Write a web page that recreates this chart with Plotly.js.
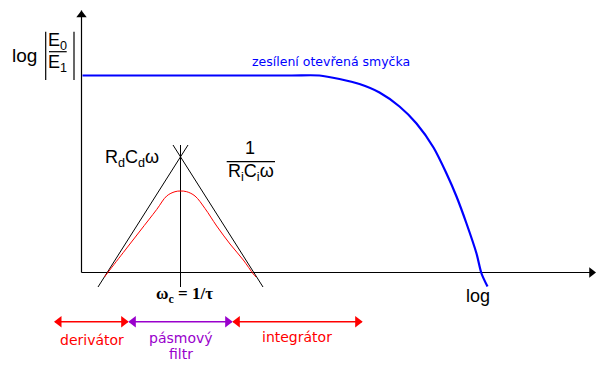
<!DOCTYPE html>
<html>
<head>
<meta charset="utf-8">
<script src="https://cdn.plot.ly/plotly-3.0.1.min.js"></script>
<style>html,body{margin:0;padding:0;background:#fff;}#chart{width:600px;height:365px;}</style>
</head>
<body>
<div id="chart"></div>
<script>
// Schematic units: x = horizontal distance from the y-axis, y = height above the x-axis
// Open-loop gain (blue)
const openLoopX = [1, 208, 238, 258, 278, 298, 318, 335, 352, 365, 375, 385, 395, 400, 406];
const openLoopY = [197, 197, 197, 193.5, 188.5, 180, 166, 149, 125, 99, 76, 49, 19, -1, -14];
// Band-pass response (red)
const bandX = [23, 25.2, 41.8, 58.5, 75.2, 85.2, 93.5, 98.8, 105.2, 113.5, 123.5, 135.2, 148.5, 161.8, 171.8, 174.5];
const bandY = [-4.5, -1.5, 20, 41.5, 63, 76.5, 80.8, 81.5, 80.8, 76.5, 64, 46.5, 28.5, 12.5, -1.5, -4.5];
// Asymptotes (black)
const diffX = [16.5, 106.5];   const diffY = [-14.5, 127.5];   // RdCdω
const integX = [91.5, 181.5];  const integY = [127.5, -14.5];  // 1/(RiCiω)
const cornerX = [99, 99];      const cornerY = [-14.5, 127.5]; // ωc = 1/τ
// Axes
const yAxisX = [0, 0];   const yAxisY = [0, 262];
const xAxisX = [0, 512]; const xAxisY = [0, 0];
// Range arrows
const rangeY = -49.2;
const derivX = [-26.5, 46.2];
const bandRangeX = [47.8, 150.2];
const integRangeX = [151.8, 280.2];

const BLACK = '#000000', BLUE = '#0000ff', RED = '#ff0000', PURPLE = '#9900cc';

function line(x, y, color, width, smooth) {
  const ln = {color: color, width: width};
  if (smooth) { ln.shape = 'spline'; ln.smoothing = smooth; }
  return {x: x, y: y, type: 'scatter', mode: 'lines', line: ln, hoverinfo: 'skip'};
}
function dblArrow(xs, y, color) {
  return [
    line(xs, [y, y], color, 1.5),
    {x: [xs[0] + 4, xs[1] - 4], y: [y, y], type: 'scatter', mode: 'markers',
     marker: {symbol: ['triangle-left', 'triangle-right'], size: 10, color: color}, hoverinfo: 'skip'}
  ];
}

const traces = [
  line(yAxisX, yAxisY, BLACK, 1.2),
  line(xAxisX, xAxisY, BLACK, 1.2),
  {x: [0], y: [257.5], type: 'scatter', mode: 'markers', marker: {symbol: 'triangle-up', size: 9, color: BLACK}},
  {x: [510], y: [0], type: 'scatter', mode: 'markers', marker: {symbol: 'triangle-right', size: 9, color: BLACK}},
  line(openLoopX, openLoopY, BLUE, 2.2, 0.8),
  line(diffX, diffY, BLACK, 1),
  line(integX, integY, BLACK, 1),
  line(cornerX, cornerY, BLACK, 1),
  line(bandX, bandY, RED, 1, 1),
  ...dblArrow(derivX, rangeY, RED),
  ...dblArrow(bandRangeX, rangeY, PURPLE),
  ...dblArrow(integRangeX, rangeY, RED)
];

const SANS = 'Liberation Sans, Arial, sans-serif';
const WIDE = 'DejaVu Sans, sans-serif';
function txt(x, y, text, size, color, family) {
  return {x: x, y: y, xref: 'x', yref: 'y', text: text, showarrow: false,
          font: {size: size, color: color || BLACK, family: family || SANS}};
}

const annotations = [
  txt(-57.5, 217.5, 'log', 19),
  txt(-24, 231.5, 'E<sub>0</sub>', 18),
  txt(-24, 209.5, 'E<sub>1</sub>', 18),
  txt(249.5, 211.5, 'zesílení otevřená smyčka', 12.5, BLUE, WIDE),
  txt(50, 114.5, 'R<sub>d</sub>C<sub>d</sub>ω', 18),
  txt(168.5, 125, '1', 18),
  txt(169.5, 100.5, 'R<sub>i</sub>C<sub>i</sub>ω', 18),
  txt(102.5, -22.5, '<b>ω<sub>c</sub> = 1/τ</b>', 17, BLACK, 'Liberation Serif, Times New Roman, serif'),
  txt(396.5, -23.5, 'log', 18),
  txt(10, -67.5, 'derivátor', 14, RED, WIDE),
  txt(99, -65.8, 'pásmový', 14, PURPLE, WIDE),
  txt(99, -81, 'filtr', 14, PURPLE, WIDE),
  txt(215.5, -64.8, 'integrátor', 14, RED, WIDE)
];

const shapes = [
  {type: 'line', xref: 'x', yref: 'y', x0: -35.8, x1: -35.8, y0: 192.5, y1: 240.8, line: {color: BLACK, width: 1.2}},
  {type: 'line', xref: 'x', yref: 'y', x0: -7.5, x1: -7.5, y0: 192.5, y1: 240.8, line: {color: BLACK, width: 1.2}},
  {type: 'line', xref: 'x', yref: 'y', x0: -32.5, x1: -14.8, y0: 220.8, y1: 220.8, line: {color: BLACK, width: 1.2}},
  {type: 'line', xref: 'x', yref: 'y', x0: 145.2, x1: 193.5, y0: 110.8, y1: 110.8, line: {color: BLACK, width: 1.2}}
];

const layout = {
  width: 600, height: 365,
  margin: {l: 0, r: 0, t: 0, b: 0},
  paper_bgcolor: '#ffffff', plot_bgcolor: '#ffffff',
  showlegend: false,
  xaxis: {range: [-81.5, 518.5], visible: false, fixedrange: true},
  yaxis: {range: [-92.5, 272.5], visible: false, fixedrange: true},
  annotations: annotations,
  shapes: shapes
};

Plotly.newPlot('chart', traces, layout, {staticPlot: true, displayModeBar: false});
</script>
</body>
</html>
